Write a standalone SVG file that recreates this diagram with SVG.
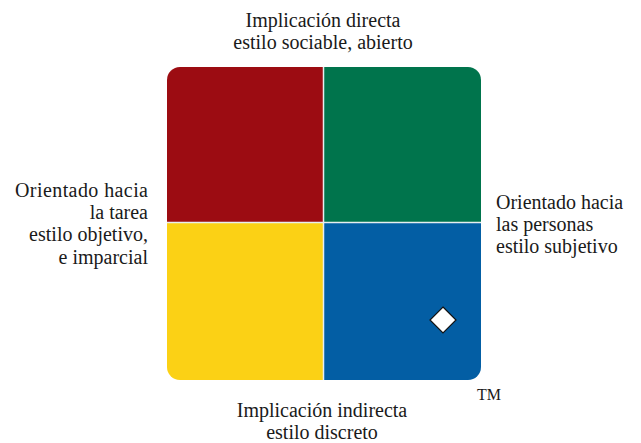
<svg xmlns="http://www.w3.org/2000/svg" width="641" height="443" viewBox="0 0 641 443">
<style>
  text { font-family: "Liberation Serif", "Times New Roman", serif; font-size: 20px; fill: #1a1a1a; }
  .tm { font-size: 16px; }
  .div { stroke: #e8eef0; stroke-width: 1.5; }
</style>
<defs>
  <clipPath id="sq"><rect x="167" y="67" width="314" height="313" rx="13" ry="13"/></clipPath>
</defs>
<rect width="641" height="443" fill="#ffffff"/>
<g id="quadrants" clip-path="url(#sq)">
  <g id="q-red"><rect x="167" y="67" width="157" height="156" fill="#9c0c12"/></g>
  <g id="q-green"><rect x="324" y="67" width="157" height="156" fill="#00744c"/></g>
  <g id="q-yellow"><rect x="167" y="223" width="157" height="157" fill="#fbd115"/></g>
  <g id="q-blue"><rect x="324" y="223" width="157" height="157" fill="#035ea4"/></g>
</g>
<g id="dividers">
  <line class="div" x1="323.5" y1="67" x2="323.5" y2="380"/>
  <line class="div" x1="167" y1="222.5" x2="481" y2="222.5"/>
</g>
<g id="marker">
  <polygon points="443,307 456,320 443,333 430,320" fill="#ffffff" stroke="#111111" stroke-width="1.2"/>
</g>
<g id="label-top">
  <text x="323" y="27" text-anchor="middle">Implicación directa</text>
  <text x="323" y="49" text-anchor="middle">estilo sociable, abierto</text>
</g>
<g id="label-left">
  <text x="148" y="197" text-anchor="end" textLength="133" lengthAdjust="spacing">Orientado hacia</text>
  <text x="148" y="219" text-anchor="end">la tarea</text>
  <text x="148" y="241" text-anchor="end">estilo objetivo,</text>
  <text x="148" y="264" text-anchor="end">e imparcial</text>
</g>
<g id="label-right">
  <text x="496" y="209">Orientado hacia</text>
  <text x="496" y="231">las personas</text>
  <text x="496" y="253">estilo subjetivo</text>
</g>
<g id="label-bottom">
  <text x="322" y="417" text-anchor="middle">Implicación indirecta</text>
  <text x="322" y="439" text-anchor="middle">estilo discreto</text>
</g>
<g id="trademark">
  <text class="tm" x="489" y="400" text-anchor="middle">TM</text>
</g>
</svg>
